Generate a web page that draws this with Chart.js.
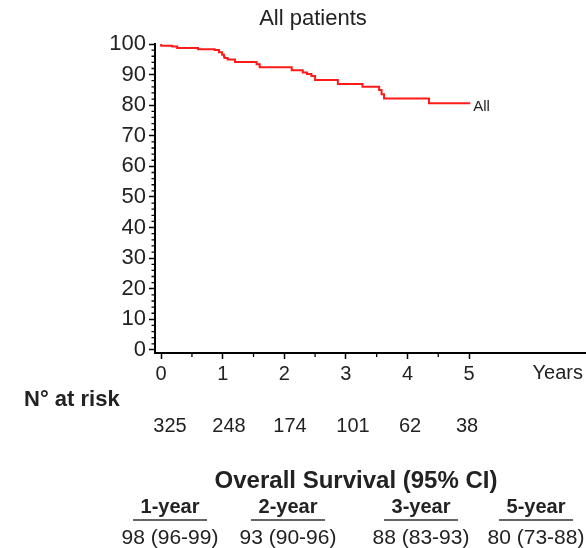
<!DOCTYPE html>
<html lang="en">
<head>
<meta charset="UTF-8">
<title>All patients</title>
<script src="https://cdn.jsdelivr.net/npm/chart.js@4"></script>
<style>
  html, body { margin: 0; padding: 0; background: #fff; }
  canvas { display: block; }
</style>
</head>
<body>
<canvas id="kmChart" width="586" height="548"></canvas>
<script>
// survival curve (years, %)
const times = [0, 0.18, 0.26, 0.60, 0.87, 0.94, 0.99, 1.02, 1.03, 1.08, 1.20, 1.55, 1.60, 2.12, 2.30, 2.37, 2.44, 2.50, 2.87, 3.27, 3.54, 3.58, 3.62, 4.35, 4.57, 5.02];
const survival = [100, 99.4, 99.2, 98.7, 98.3, 98.0, 97.3, 96.5, 95.8, 95.4, 94.9, 94.1, 93.4, 92.4, 91.4, 90.7, 90.2, 89.5, 88.2, 86.9, 86.0, 85.0, 83.6, 82.2, 80.6, 80.6];

const xTicks = [0, 1, 2, 3, 4, 5];
const yTicks = [0, 10, 20, 30, 40, 50, 60, 70, 80, 90, 100];
const atRisk = [325, 248, 174, 101, 62, 38];
const osHeaders = ['1-year', '2-year', '3-year', '5-year'];
const osValues = ['98 (96-99)', '93 (90-96)', '88 (83-93)', '80 (73-88)'];

const FONT = '"Liberation Sans", Arial, sans-serif';
const riskX = [170, 229, 290, 353, 410, 467];
const osX = [170, 288, 421, 536];

const points = times.map((t, i) => ({ x: t, y: survival[i] }));

// extra text + minor ticks
const extras = {
    id: 'extras',
    afterDraw(chart) {
        const ctx = chart.ctx;
        const xs = chart.scales.x, ys = chart.scales.y;
        ctx.save();
        ctx.fillStyle = '#222';
        ctx.strokeStyle = '#000';

        // minor ticks
        ctx.lineWidth = 1.3;
        ctx.beginPath();
        for (let v = 2; v < 100; v += 2) {
            if (v % 10 === 0) continue;
            const py = ys.getPixelForValue(v);
            ctx.moveTo(xs.left - 3.5, py);
            ctx.lineTo(xs.left, py);
        }
        for (let v = 0.5; v < 5; v += 1) {
            const px = xs.getPixelForValue(v);
            ctx.moveTo(px, ys.bottom);
            ctx.lineTo(px, ys.bottom + 4);
        }
        ctx.stroke();

        // title
        ctx.font = '22px ' + FONT;
        ctx.textAlign = 'center';
        ctx.textBaseline = 'middle';
        ctx.fillText('All patients', 313, 19);

        // Years label
        ctx.textAlign = 'right';
        ctx.font = '20px ' + FONT;
        ctx.fillText('Years', 583, 373);

        // curve label
        const last = points[points.length - 1];
        ctx.font = '15px ' + FONT;
        ctx.textAlign = 'left';
        ctx.fillText('All', xs.getPixelForValue(last.x) + 3, ys.getPixelForValue(last.y) + 4);

        // number at risk
        ctx.font = 'bold 22px ' + FONT;
        ctx.fillText('N\u00b0 at risk', 24, 400);
        ctx.font = '20px ' + FONT;
        ctx.textAlign = 'center';
        atRisk.forEach((n, i) => ctx.fillText(String(n), riskX[i], 426));

        // survival table
        ctx.font = 'bold 24px ' + FONT;
        ctx.fillText('Overall Survival (95% CI)', 356, 481);
        ctx.font = 'bold 20px ' + FONT;
        osHeaders.forEach((h, i) => ctx.fillText(h, osX[i], 507));
        ctx.lineWidth = 1.5;
        ctx.strokeStyle = '#333';
        ctx.beginPath();
        osX.forEach(cx => { ctx.moveTo(cx - 37, 520); ctx.lineTo(cx + 37, 520); });
        ctx.stroke();
        ctx.font = '21px ' + FONT;
        osValues.forEach((v, i) => ctx.fillText(v, osX[i], 538));
        ctx.restore();
    }
};

new Chart(document.getElementById('kmChart'), {
    type: 'line',
    data: {
        datasets: [{
            label: 'All',
            data: points,
            stepped: 'after',
            borderColor: '#ff1a1a',
            borderWidth: 2,
            pointRadius: 0,
            fill: false
        }]
    },
    options: {
        responsive: false,
        animation: false,
        layout: { padding: { top: 44, right: 0, bottom: 155, left: 0 } },
        plugins: { legend: { display: false }, tooltip: { enabled: false }, title: { display: false } },
        scales: {
            x: {
                type: 'linear',
                min: -0.1,
                max: 6.9,
                afterBuildTicks: s => { s.ticks = xTicks.map(v => ({ value: v })); },
                afterFit: s => { s.height = 40; },
                grid: { drawOnChartArea: false, drawTicks: true, tickLength: 6, tickColor: '#000', tickWidth: 1.5 },
                border: { display: true, color: '#000', width: 2 },
                ticks: { color: '#222', font: { family: FONT, size: 20 }, padding: 3, maxRotation: 0 }
            },
            y: {
                min: -1,
                max: 100,
                afterBuildTicks: s => { s.ticks = yTicks.map(v => ({ value: v })); },
                afterFit: s => { s.width = 155; },
                grid: { drawOnChartArea: false, drawTicks: true, tickLength: 6, tickColor: '#000', tickWidth: 1.5 },
                border: { display: true, color: '#000', width: 2 },
                ticks: { color: '#222', font: { family: FONT, size: 22 }, padding: 3 }
            }
        }
    },
    plugins: [extras]
});
</script>
</body>
</html>
